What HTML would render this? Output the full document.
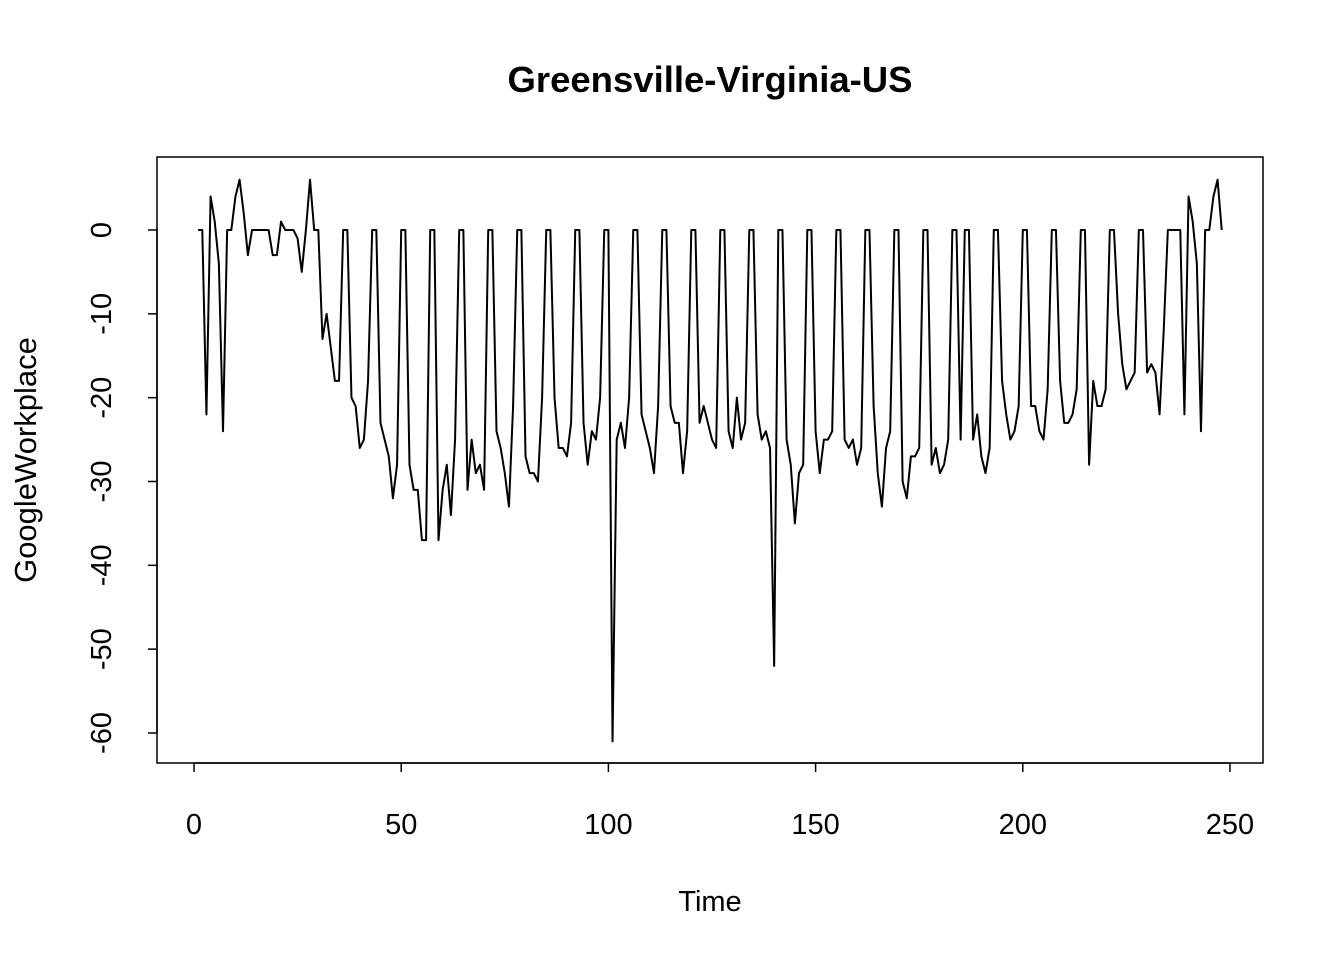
<!DOCTYPE html>
<html><head><meta charset="utf-8"><title>Greensville-Virginia-US</title>
<style>html,body{margin:0;padding:0;background:#fff}svg{display:block}text{font-family:"Liberation Sans",Arial,sans-serif;fill:#000}</style>
</head><body>
<svg id="chart" width="1344" height="960" viewBox="0 0 1344 960" xmlns="http://www.w3.org/2000/svg">
<text x="710" y="92" font-size="36.5" font-weight="bold" text-anchor="middle">Greensville-Virginia-US</text>
<rect x="157" y="157" width="1106" height="606" fill="none" stroke="#000" stroke-width="1.5"/>
<g id="xaxis"></g>
<g id="yaxis"></g>
<text x="710" y="911" font-size="29" text-anchor="middle">Time</text>
<text transform="translate(36,460) rotate(-90)" font-size="31" text-anchor="middle">GoogleWorkplace</text>
<path id="series" fill="none" stroke="#000" stroke-width="2" stroke-linejoin="round"/>
</svg>
<script>
const values = [0,0,-22,4,1,-4,-24,0,0,4,6,2,-3,0,0,0,0,0,-3,-3,1,0,0,0,-1,-5,0,6,0,0,-13,-10,-14,-18,-18,0,0,-20,-21,-26,-25,-18,0,0,-23,-25,-27,-32,-28,0,0,-28,-31,-31,-37,-37,0,0,-37,-31,-28,-34,-25,0,0,-31,-25,-29,-28,-31,0,0,-24,-26,-29,-33,-21,0,0,-27,-29,-29,-30,-20,0,0,-20,-26,-26,-27,-23,0,0,-23,-28,-24,-25,-20,0,0,-61,-25,-23,-26,-20,0,0,-22,-24,-26,-29,-21,0,0,-21,-23,-23,-29,-24,0,0,-23,-21,-23,-25,-26,0,0,-24,-26,-20,-25,-23,0,0,-22,-25,-24,-26,-52,0,0,-25,-28,-35,-29,-28,0,0,-24,-29,-25,-25,-24,0,0,-25,-26,-25,-28,-26,0,0,-21,-29,-33,-26,-24,0,0,-30,-32,-27,-27,-26,0,0,-28,-26,-29,-28,-25,0,0,-25,0,0,-25,-22,-27,-29,-26,0,0,-18,-22,-25,-24,-21,0,0,-21,-21,-24,-25,-19,0,0,-18,-23,-23,-22,-19,0,0,-28,-18,-21,-21,-19,0,0,-10,-16,-19,-18,-17,0,0,-17,-16,-17,-22,-12,0,0,0,0,-22,4,1,-4,-24,0,0,4,6,0];
const xTicks = [0,50,100,150,200,250];
const yTicks = [0,-10,-20,-30,-40,-50,-60];
const NS='http://www.w3.org/2000/svg';
function xs(v){return 194+v*(1036/250);}
function ys(v){return 230-v*(503/60);}
const xa=document.getElementById('xaxis'), ya=document.getElementById('yaxis');
function mk(tag,attrs,parent){const e=document.createElementNS(NS,tag);for(const k in attrs)e.setAttribute(k,attrs[k]);parent.appendChild(e);return e;}
const xl=mk('line',{x1:xs(xTicks[0]),x2:xs(xTicks[xTicks.length-1]),y1:763,y2:763,stroke:'#000','stroke-width':1.5},xa);


xTicks.forEach(t=>{
  const l=mk('line',{x1:xs(t),x2:xs(t),y1:763,y2:772,stroke:'#000','stroke-width':1.5},xa);
  
  
  const tx=mk('text',{x:xs(t),y:834,'font-size':29,'text-anchor':'middle'},xa);
  tx.textContent=t;
  
  
});
const yl=mk('line',{x1:157,x2:157,y1:ys(yTicks[0]),y2:ys(yTicks[yTicks.length-1]),stroke:'#000','stroke-width':1.5},ya);


yTicks.forEach(t=>{
  const l=mk('line',{x1:148,x2:157,y1:ys(t),y2:ys(t),stroke:'#000','stroke-width':1.5},ya);
  
  
  const tx=mk('text',{transform:'translate(111,'+ys(t)+') rotate(-90)','font-size':29,'text-anchor':'middle'},ya);
  tx.textContent=t;
  
  
});
document.getElementById('series').setAttribute('d',values.map((v,i)=>(i?'L':'M')+xs(i+1).toFixed(2)+' '+ys(v).toFixed(2)).join(''));
</script>
</body></html>
